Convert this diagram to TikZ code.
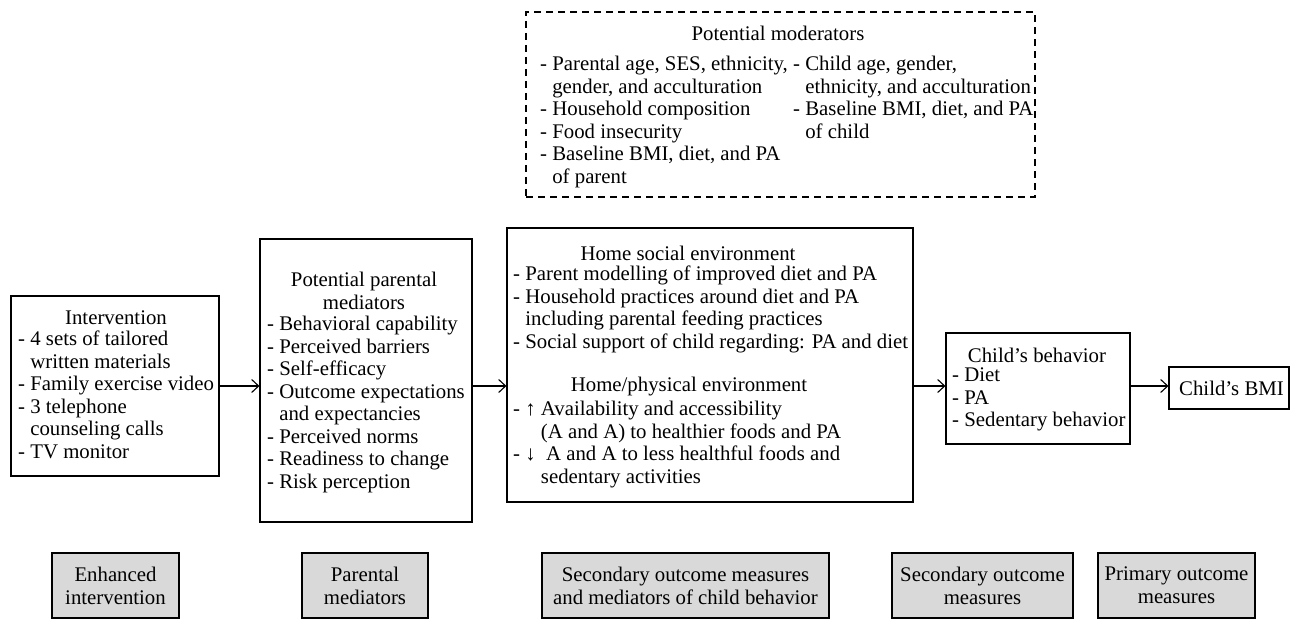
\documentclass[tikz,border=0pt]{standalone}
\usepackage{fontspec}
\setmainfont{Liberation Serif}
\usetikzlibrary{arrows.meta}
\tikzset{
  box/.style={draw, line width=1.1pt, inner sep=0pt},
  dbox/.style={draw, dashed, line width=1.1pt, inner sep=0pt, dash pattern=on 7pt off 5pt},
  gbox/.style={draw, line width=1.1pt, fill=black!15, inner sep=0pt, align=center,
    font=\fontsize{20.8}{23}\selectfont},
  txt/.style={inner sep=0pt, align=left, font=\fontsize{20.8}{22.5}\selectfont},
  ttl/.style={inner sep=0pt, align=center, font=\fontsize{20.8}{22.5}\selectfont},
  arr/.style={line width=1.1pt, -{Straight Barb[length=7pt,width=13pt,line width=1.1pt]}}
}
\begin{document}
\begin{tikzpicture}[x=1pt,y=-1pt]
\useasboundingbox (0,0) rectangle (1290,620);
% boxes
\node[dbox, minimum width=509pt, minimum height=185pt] (mod) at (780.5,104.5) {};
\node[box, minimum width=208pt, minimum height=180pt] (int) at (115,386) {};
\node[box, minimum width=212pt, minimum height=283pt] (med) at (366,380.5) {};
\node[box, minimum width=406pt, minimum height=274pt] (home) at (710,365) {};
\node[box, minimum width=184pt, minimum height=111pt] (cb) at (1038,388.5) {};
\node[box, minimum width=120pt, minimum height=42pt] (bmi) at (1229,388) {};
% moderators text
\node[ttl] (modt) at (778,33) {Potential moderators};
\node[txt, anchor=north west] (modl) at (540,56) {- Parental age, SES, ethnicity,\\\phantom{- }gender, and acculturation\\- Household composition\\- Food insecurity\\- Baseline BMI, diet, and PA\\\phantom{- }of parent};
\node[txt, anchor=north west] (modr) at (793,56) {- Child age, gender,\\\phantom{- }ethnicity, and acculturation\\- Baseline BMI, diet, and PA\\\phantom{- }of child};
% intervention text
\node[ttl] (intt) at (116,318) {Intervention};
\node[txt, anchor=north west] (intl) at (18,331) {- 4 sets of tailored\\\phantom{- }written materials\\- Family exercise video\\- 3 telephone\\\phantom{- }counseling calls\\- TV monitor};
% mediators text
\node[ttl] (medt) at (364,291) {Potential parental\\mediators};
\node[txt, anchor=north west] (medl) at (267,316) {- Behavioral capability\\- Perceived barriers\\- Self-efficacy\\- Outcome expectations\\\phantom{- }and expectancies\\- Perceived norms\\- Readiness to change\\- Risk perception};
% home text
\node[ttl] (homet1) at (688,253) {Home social environment};
\node[txt, anchor=north west] (homel1) at (513,266) {- Parent modelling of improved diet and PA\\- Household practices around diet and PA\\\phantom{- }including parental feeding practices\\- Social support of child regarding: PA and diet};
\node[ttl] (homet2) at (689,387) {Home/physical environment};
\node[txt, anchor=north west] (homel2) at (513,401) {- ↑ Availability and accessibility\\\phantom{- ↑ }(A and A) to healthier foods and PA\\- ↓\ \ A and A to less healthful foods and\\\phantom{- ↑ }sedentary activities};
% child behaviour text
\node[ttl] (cbt) at (1037,355) {Child’s behavior};
\node[txt, anchor=north west] (cbl) at (952,368) {- Diet\\- PA\\- Sedentary behavior};
\node[txt, anchor=west] (bmit) at (1179,388) {Child’s BMI};
% arrows
\draw[arr] (int.east) -- (int.east -| med.west);
\draw[arr] (int.east -| med.east) -- (int.east -| home.west);
\draw[arr] (int.east -| home.east) -- (int.east -| cb.west);
\draw[arr] (int.east -| cb.east) -- (int.east -| bmi.west);
% bottom labels
\node[gbox, minimum width=127pt, minimum height=65pt] (g1) at (115.5,585.5) {Enhanced\\intervention};
\node[gbox, minimum width=126pt, minimum height=65pt] (g2) at (365,585.5) {Parental\\mediators};
\node[gbox, minimum width=287pt, minimum height=65pt] (g3) at (685.5,585.5) {Secondary outcome measures\\and mediators of child behavior};
\node[gbox, minimum width=181pt, minimum height=65pt] (g4) at (982.5,585.5) {Secondary outcome\\measures};
\node[gbox, minimum width=157pt, minimum height=65pt] (g5) at (1176.5,585.5) {Primary outcome\\measures};
\end{tikzpicture}
\end{document}
